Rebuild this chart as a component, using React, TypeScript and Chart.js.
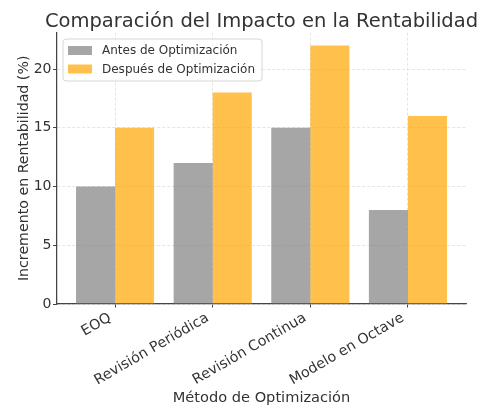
import React, { useEffect, useRef } from "react";
import { Chart, registerables } from "chart.js";

Chart.register(...registerables);

const categories = ["EOQ", "Revisión Periódica", "Revisión Continua", "Modelo en Octave"];
const antes = [10, 12, 15, 8];
const despues = [15, 18, 22, 16];
const seriesLabels = ["Antes de Optimización", "Después de Optimización"];
const yTicks = [0, 5, 10, 15, 20];
const yMax = 23.1;
const xMin = -0.6;
const xMax = 3.6;
const chartTitle = "Comparación del Impacto en la Rentabilidad";
const xTitle = "Método de Optimización";
const yTitle = "Incremento en Rentabilidad (%)";

const GRAY = "rgba(128,128,128,0.7)";
const ORANGE = "rgba(255,165,0,0.7)";
const FONT = "'DejaVu Sans', sans-serif";
const TEXT = "#333333";

const titlePlugin = {
  id: "centeredTitle",
  afterDraw(chart: any) {
    const ctx = chart.ctx;
    const a = chart.chartArea;
    ctx.save();
    ctx.fillStyle = TEXT;
    ctx.font = `19.5px ${FONT}`;
    ctx.textAlign = "center";
    ctx.textBaseline = "alphabetic";
    ctx.fillText(chartTitle, (a.left + a.right) / 2, 26.5);
    ctx.restore();
  },
};

const legendPlugin = {
  id: "innerLegend",
  afterDraw(chart: any) {
    const ctx = chart.ctx;
    const x = 63, y = 39, w = 199, h = 42, r = 3;
    ctx.save();
    ctx.beginPath();
    ctx.moveTo(x + r, y);
    ctx.lineTo(x + w - r, y);
    ctx.quadraticCurveTo(x + w, y, x + w, y + r);
    ctx.lineTo(x + w, y + h - r);
    ctx.quadraticCurveTo(x + w, y + h, x + w - r, y + h);
    ctx.lineTo(x + r, y + h);
    ctx.quadraticCurveTo(x, y + h, x, y + h - r);
    ctx.lineTo(x, y + r);
    ctx.quadraticCurveTo(x, y, x + r, y);
    ctx.closePath();
    ctx.fillStyle = "rgba(255,255,255,0.8)";
    ctx.fill();
    ctx.strokeStyle = "#d6d6d6";
    ctx.lineWidth = 1;
    ctx.stroke();
    const rows = [50.5, 69];
    chart.data.datasets.forEach((ds: any, i: number) => {
      ctx.fillStyle = ds.backgroundColor;
      ctx.fillRect(68, rows[i] - 4.5, 24, 9);
      ctx.fillStyle = TEXT;
      ctx.font = `12px ${FONT}`;
      ctx.textBaseline = "middle";
      ctx.textAlign = "left";
      ctx.fillText(ds.label, 102, rows[i] + 0.5);
    });
    ctx.restore();
  },
};

export default function App() {
  const ref = useRef<HTMLCanvasElement>(null);
  useEffect(() => {
    if (!ref.current) return;
    const chart = new Chart(ref.current, {
      type: "bar",
      data: {
        datasets: [
          {
            label: seriesLabels[0],
            data: antes.map((v, i) => ({ x: i, y: v })),
            backgroundColor: GRAY,
            categoryPercentage: 0.8,
            barPercentage: 1,
          },
          {
            label: seriesLabels[1],
            data: despues.map((v, i) => ({ x: i, y: v })),
            backgroundColor: ORANGE,
            categoryPercentage: 0.8,
            barPercentage: 1,
          },
        ],
      },
      options: {
        animation: false,
        responsive: false,
        layout: { padding: { left: 0, right: 15.5, top: 32.7, bottom: 0 } },
        plugins: {
          legend: { display: false },
          tooltip: { enabled: false },
          title: { display: false },
        },
        scales: {
          x: {
            type: "linear",
            min: xMin,
            max: xMax,
            offset: false,
            afterFit(scale: any) { scale.height = 106; },
            afterBuildTicks(scale: any) { scale.ticks = categories.map((_, i) => ({ value: i })); },
            grid: {
              offset: false,
              color: "#dddddd",
              lineWidth: 0.8,
              drawTicks: true,
              tickLength: 3.5,
              tickColor: "#444",
              tickBorderDash: [],
              tickWidth: 1,
            },
            border: { color: "#444", width: 1.25, dash: [3, 2] },
            ticks: {
              color: TEXT,
              font: { family: FONT, size: 14.3 },
              minRotation: 30,
              maxRotation: 30,
              padding: 2,
              labelOffset: -5,
              autoSkip: false,
              callback: (v: any) => categories[v as number] ?? "",
            },
            title: {
              display: true,
              text: xTitle,
              color: TEXT,
              font: { family: FONT, size: 14.6 },
              padding: { top: 0, bottom: 3.4 },
            },
          },
          y: {
            min: 0,
            max: yMax,
            afterFit(scale: any) { scale.width = 56.5; },
            afterBuildTicks(scale: any) { scale.ticks = yTicks.map((v) => ({ value: v })); },
            grid: {
              color: "#dddddd",
              lineWidth: 0.8,
              tickLength: 3.5,
              tickColor: "#444",
              tickBorderDash: [],
              tickWidth: 1,
            },
            border: { color: "#444", width: 1.25, dash: [3, 2] },
            ticks: {
              color: TEXT,
              font: { family: FONT, size: 14 },
              padding: 1.5,
            },
            title: {
              display: true,
              text: yTitle,
              color: TEXT,
              font: { family: FONT, size: 14.2 },
              padding: { top: 15.5, bottom: 0 },
            },
          },
        },
      },
      plugins: [titlePlugin, legendPlugin],
    });
    return () => chart.destroy();
  }, []);
  return (
    <div style={{ position: "absolute", left: 0, top: 0, width: 482, height: 410, background: "#fff" }}>
      <canvas ref={ref} width={482} height={410} />
    </div>
  );
}
